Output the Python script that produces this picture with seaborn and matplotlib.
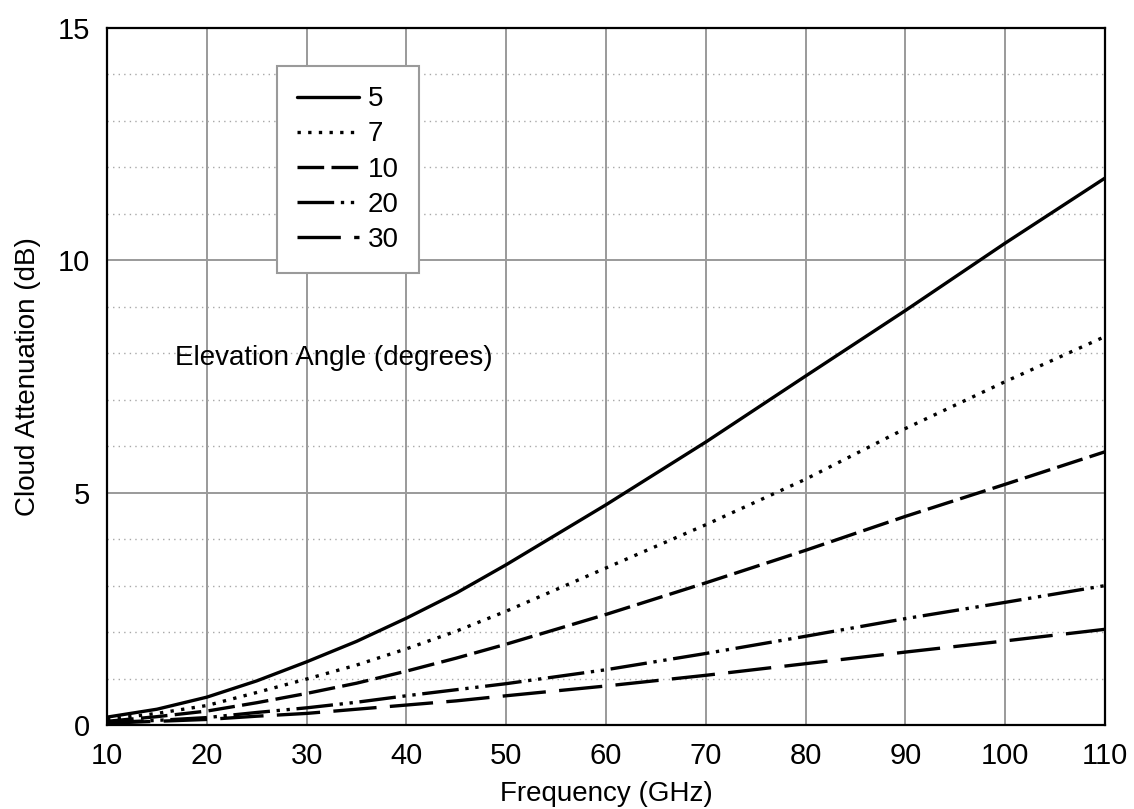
import matplotlib
matplotlib.use('Agg')
import matplotlib.pyplot as plt
from matplotlib.ticker import MultipleLocator
import pandas as pd
import seaborn as sns

sns.set_style('white')
plt.rcParams['font.family'] = ['Liberation Sans', 'DejaVu Sans']
plt.rcParams['text.color'] = 'black'
plt.rcParams['axes.labelcolor'] = 'black'
plt.rcParams['xtick.color'] = 'black'
plt.rcParams['ytick.color'] = 'black'

# frequency (GHz) and cloud attenuation (dB) per elevation angle (degrees)
freq = [10, 15, 20, 25, 30, 35, 40, 45, 50, 60, 70, 80, 90, 100, 110]
att_5 = [0.17, 0.34, 0.60, 0.95, 1.36, 1.80, 2.30, 2.84, 3.45, 4.74, 6.09, 7.51, 8.92, 10.37, 11.77]
att_7 = [0.12, 0.25, 0.42, 0.70, 0.99, 1.29, 1.64, 2.02, 2.45, 3.38, 4.31, 5.29, 6.38, 7.39, 8.36]
att_10 = [0.08, 0.18, 0.30, 0.48, 0.68, 0.90, 1.16, 1.44, 1.74, 2.38, 3.06, 3.76, 4.49, 5.18, 5.88]
att_20 = [0.05, 0.10, 0.16, 0.27, 0.37, 0.49, 0.63, 0.76, 0.89, 1.19, 1.54, 1.91, 2.29, 2.64, 3.00]
att_30 = [0.04, 0.08, 0.12, 0.19, 0.25, 0.34, 0.43, 0.52, 0.63, 0.84, 1.07, 1.32, 1.57, 1.81, 2.06]
angles = ['5', '7', '10', '20', '30']

series = dict(zip(angles, [att_5, att_7, att_10, att_20, att_30]))
styles = {
    '5': '-',
    '7': (0, (1, 2.2)),
    '10': (0, (8, 2.2)),
    '20': (0, (11, 2, 1, 2, 1, 2)),
    '30': (0, (13, 4)),
}

fig = plt.figure(figsize=(11.34, 8.09), dpi=100)
ax = fig.add_axes([0.0944, 0.1038, 0.88, 0.8616])

for ang in angles:
    df = pd.DataFrame({'freq': freq, 'att': series[ang]})
    sns.lineplot(data=df, x='freq', y='att', ax=ax, color='black', lw=2.4,
                 linestyle=styles[ang], label=ang)

ax.set_xlim(10, 110)
ax.set_ylim(0, 15)
ax.xaxis.set_major_locator(MultipleLocator(10))
ax.xaxis.set_minor_locator(MultipleLocator(2))
ax.yaxis.set_major_locator(MultipleLocator(5))
ax.yaxis.set_minor_locator(MultipleLocator(1))

ax.grid(which='major', axis='both', color='#9a9a9a', lw=1.4, ls='-')
ax.grid(which='minor', axis='y', color='#a8a8a8', lw=1.0, ls=(0, (1, 3)))
ax.set_axisbelow(True)

ax.tick_params(which='both', direction='out', length=7, width=1.5, color='black',
               labelsize=21, pad=5)
for s in ax.spines.values():
    s.set_color('black')
    s.set_linewidth(1.6)

ax.set_xlabel('Frequency (GHz)', fontsize=20, labelpad=8)
ax.set_ylabel('Cloud Attenuation (dB)', fontsize=20, labelpad=12)

ax.text(16.8, 7.9, 'Elevation Angle (degrees)', fontsize=20, va='center', ha='left')

handles, labels = ax.get_legend_handles_labels()
leg = ax.legend(handles, labels, loc='upper left', bbox_to_anchor=(0.170, 0.945),
                borderaxespad=0, fontsize=20, handlelength=2.25, handletextpad=0.3,
                labelspacing=0.33, borderpad=0.72, fancybox=False, framealpha=1)
leg.get_frame().set_edgecolor('#9a9a9a')
leg.get_frame().set_linewidth(1.5)

fig.savefig('out.png', dpi=100)
